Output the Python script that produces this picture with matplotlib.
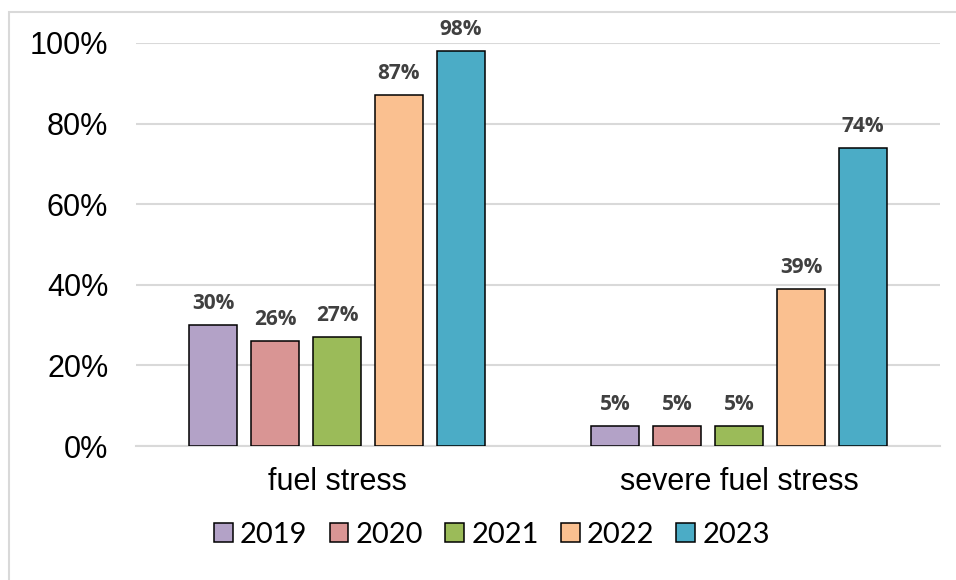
import matplotlib.pyplot as plt
from matplotlib.patches import Rectangle
import numpy as np

# Data
categories = ["fuel stress", "severe fuel stress"]
years = ["2019", "2020", "2021", "2022", "2023"]
values = {
    "2019": [30, 5],
    "2020": [26, 5],
    "2021": [27, 5],
    "2022": [87, 39],
    "2023": [98, 74],
}
colors = ["#B3A2C7", "#D99594", "#9BBB59", "#FAC090", "#4BACC6"]
yticks = [0, 20, 40, 60, 80, 100]

fig = plt.figure(figsize=(9.56, 5.8), dpi=100)
ax = fig.add_axes([0.1423, 0.231, 0.841, 0.695])

# light outer border like the Excel chart area
fig.patches.append(Rectangle((9 / 956, -0.1), 1.2, 1 - 12 / 580 + 0.1,
                             transform=fig.transFigure, fill=False,
                             edgecolor="#D9D9D9", linewidth=1.5, zorder=0))

x = np.arange(len(categories))
step = 0.154
width = 0.119
for i, (year, color) in enumerate(zip(years, colors)):
    vals = np.array(values[year]) / 100
    bars = ax.bar(x + (i - 2) * step, vals, width, color=color,
                  edgecolor="black", linewidth=1.1, label=year, zorder=3)
    for b, v in zip(bars, values[year]):
        ax.annotate(f"{v}%", (b.get_x() + b.get_width() / 2, b.get_height()),
                    xytext=(0, 8), textcoords="offset points",
                    ha="center", va="bottom", fontsize=15,
                    fontweight="bold", color="#404040", family="Open Sans")

ax.set_xlim(-0.5, 1.5)
ax.set_ylim(0, 1)
ax.set_yticks([t / 100 for t in yticks])
ax.set_yticklabels([f"{t}%" for t in yticks], family="Liberation Sans", fontsize=22)
ax.set_xticks(x)
ax.set_xticklabels(categories, family="Liberation Sans", fontsize=22)
ax.tick_params(axis="y", length=0, pad=20)
ax.tick_params(axis="x", length=0, pad=15)

ax.grid(axis="y", color="#D9D9D9", linewidth=1.5, zorder=0)
for s in ["top", "right", "left"]:
    ax.spines[s].set_visible(False)
ax.spines["bottom"].set_color("#D9D9D9")
ax.spines["bottom"].set_linewidth(1.5)

leg = fig.legend(loc="center", bbox_to_anchor=(492 / 956, 1 - 535 / 580),
                 ncol=5, frameon=False, handlelength=0.65, handleheight=0.65,
                 handletextpad=0.25, columnspacing=0.75,
                 prop={"family": "Lato", "size": 21})

plt.savefig("out.png", dpi=100)
